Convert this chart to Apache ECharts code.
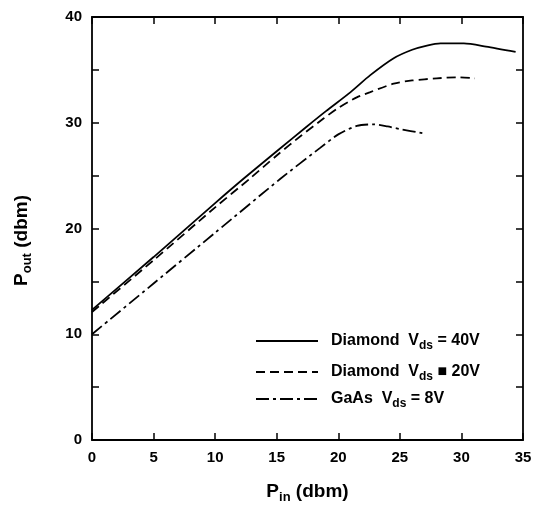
<!DOCTYPE html>
<html>
<head>
<meta charset="utf-8">
<script src="https://cdn.jsdelivr.net/npm/echarts@6/dist/echarts.min.js"></script>
<style>html,body{margin:0;padding:0;background:#fff;}#c{width:539px;height:510px;}</style>
</head>
<body>
<div id="c"></div>
<script>
// ---- data ----
const xTickLabels = [0, 5, 10, 15, 20, 25, 30, 35];
const yTickLabels = [0, 10, 20, 30, 40];

const diamond40X = [0, 5, 10, 12.3, 15, 17.4, 19, 21, 22.6, 24.5, 26, 27.2, 28.3, 30.2, 32, 34.4];
const diamond40Y = [12.3, 17.3, 22.4, 24.7, 27.3, 29.6, 31.1, 32.9, 34.5, 36.1, 36.9, 37.3, 37.5, 37.5, 37.2, 36.7];

const diamond20X = [0, 5, 10, 12.8, 15, 17, 18.8, 20, 21.5, 22.6, 24.5, 26, 28, 29.6, 31.1];
const diamond20Y = [12.1, 17.0, 22.0, 24.7, 26.9, 28.8, 30.4, 31.4, 32.4, 32.9, 33.7, 34.0, 34.2, 34.3, 34.2];

const gaasX = [0, 5, 10, 15.3, 18.5, 20, 21.5, 22.8, 24, 25, 26.9];
const gaasY = [10.0, 14.8, 19.6, 24.7, 27.6, 28.9, 29.7, 29.85, 29.65, 29.4, 29.0];

const seriesNames = ['Diamond Vds = 40V', 'Diamond Vds = 20V', 'GaAs Vds = 8V'];
const legendPrefix = ['Diamond  V', 'Diamond  V', 'GaAs  V'];
const legendSuffix = [' = 40V', ' \u25A0 20V', ' = 8V'];

// ---- chart ----
const FONT = '"Liberation Sans", Arial, Helvetica, sans-serif';
const pair = (xs, ys) => xs.map((x, i) => [x, ys[i]]);

const chart = echarts.init(document.getElementById('c'), null, {renderer: 'canvas'});

const axisLine = {show: true, onZero: false, lineStyle: {color: '#000', width: 1.8}};
const axisTick = {show: true, inside: true, length: 7, lineStyle: {color: '#000', width: 1.5}};

const legendRich = {
  t: {fontFamily: FONT, fontWeight: 'bold', fontSize: 16, color: '#000'},
  s: {fontFamily: FONT, fontWeight: 'bold', fontSize: 12, color: '#000', padding: [10, 0, 0, 0]}
};
const legendTops = [333, 364, 391];

const nameRich = {
  p: {fontFamily: FONT, fontWeight: 'bold', fontSize: 19, color: '#000'},
  s: {fontFamily: FONT, fontWeight: 'bold', fontSize: 13, color: '#000', padding: [11, 0, 0, 0]}
};

const option = {
  backgroundColor: '#fff',
  animation: false,
  grid: {left: 92, right: 16, top: 17, bottom: 70, containLabel: false},
  legend: seriesNames.map((n, i) => ({
    data: [n],
    left: 255,
    top: legendTops[i],
    padding: 0,
    itemWidth: 62,
    itemHeight: 14,
    itemStyle: {opacity: 0},
    formatter: () => '{t|' + legendPrefix[i] + '}{s|ds}{t|' + legendSuffix[i] + '}',
    textStyle: {rich: legendRich, padding: [0, 0, 0, 8]}
  })),
  xAxis: [
    {
      type: 'value', min: 0, max: 35, interval: 5, position: 'bottom',
      name: '{p|P}{s|in}{p| (dbm)}', nameLocation: 'middle', nameGap: 40,
      nameTextStyle: {rich: nameRich},
      axisLine, axisTick,
      axisLabel: {margin: 10, color: '#000', fontFamily: FONT, fontWeight: 'bold', fontSize: 15,
        formatter: v => xTickLabels.includes(v) ? String(v) : ''},
      splitLine: {show: false}
    },
    {
      type: 'value', min: 0, max: 35, interval: 5, position: 'top',
      axisLine, axisTick, axisLabel: {show: false}, splitLine: {show: false}
    }
  ],
  yAxis: [
    {
      type: 'value', min: 0, max: 40, interval: 5, position: 'left',
      name: '{p|P}{s|out}{p| (dbm)}', nameLocation: 'middle', nameGap: 58,
      nameTextStyle: {rich: nameRich, padding: [0, 24, 0, 0]},
      axisLine, axisTick,
      axisLabel: {margin: 10, color: '#000', fontFamily: FONT, fontWeight: 'bold', fontSize: 15,
        formatter: v => yTickLabels.includes(v) ? String(v) : ''},
      splitLine: {show: false}
    },
    {
      type: 'value', min: 0, max: 40, interval: 5, position: 'right',
      axisLine, axisTick, axisLabel: {show: false}, splitLine: {show: false}
    }
  ],
  series: [
    {
      name: seriesNames[0], type: 'line', symbol: 'none', smooth: 0.25,
      data: pair(diamond40X, diamond40Y),
      lineStyle: {color: '#000', width: 1.8, type: 'solid'}, itemStyle: {color: '#000'}
    },
    {
      name: seriesNames[1], type: 'line', symbol: 'none', smooth: 0.25,
      data: pair(diamond20X, diamond20Y),
      lineStyle: {color: '#000', width: 1.8, type: [9, 5]}, itemStyle: {color: '#000'}
    },
    {
      name: seriesNames[2], type: 'line', symbol: 'none', smooth: 0.25,
      data: pair(gaasX, gaasY),
      lineStyle: {color: '#000', width: 1.8, type: [13, 4, 3, 4]}, itemStyle: {color: '#000'}
    }
  ]
};
chart.setOption(option);
</script>
</body>
</html>
